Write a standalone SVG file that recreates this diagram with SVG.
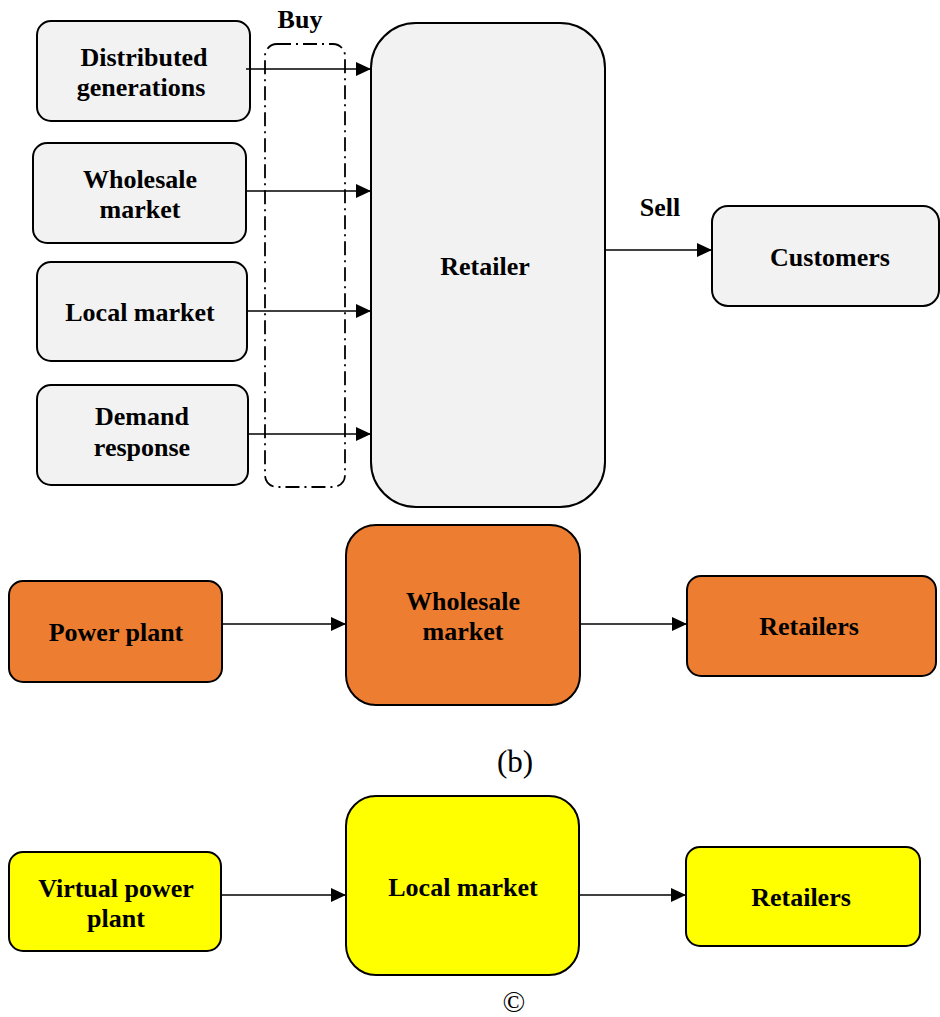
<svg xmlns="http://www.w3.org/2000/svg" width="940" height="1017" viewBox="0 0 940 1017">
<style>
.n{stroke:#000;stroke-width:2}
.g{fill:#f2f2f2}
.o{fill:#ed7d31}
.y{fill:#ffff00}
.t{font-family:"Liberation Serif",serif;font-weight:bold;font-size:26px;fill:#000;text-anchor:middle}
.c{font-family:"Liberation Serif",serif;font-size:31px;fill:#000;text-anchor:middle}
.e{stroke:#000;stroke-width:1.5;fill:none}
</style>
<defs>
<marker id="ah" markerWidth="15" markerHeight="14" refX="15" refY="7" orient="auto" markerUnits="userSpaceOnUse">
<path d="M0,0 L15,7 L0,14 Z" fill="#000"/>
</marker>
</defs>
<rect width="940" height="1017" fill="#fff"/>

<g id="dg"><rect class="n g" x="37" y="21" width="213" height="100" rx="14"/><text class="t" x="144" y="66">Distributed</text><text class="t" x="141" y="96">generations</text></g>
<g id="wm1"><rect class="n g" x="33" y="143" width="213" height="100" rx="14"/><text class="t" x="140" y="188">Wholesale</text><text class="t" x="140" y="218">market</text></g>
<g id="lm1"><rect class="n g" x="37" y="262" width="210" height="99" rx="14"/><text class="t" x="140" y="321">Local market</text></g>
<g id="dr"><rect class="n g" x="37" y="385" width="211" height="100" rx="14"/><text class="t" x="142" y="425">Demand</text><text class="t" x="142" y="456">response</text></g>
<g id="buy"><rect x="265" y="44" width="80" height="443" rx="12" fill="none" stroke="#000" stroke-width="1.8" stroke-dasharray="14,5,2,5"/><text class="t" x="300" y="28">Buy</text></g>
<g id="retailer"><rect class="n g" x="371" y="23" width="234" height="484" rx="45"/><text class="t" x="485" y="275">Retailer</text></g>
<g id="cust"><rect class="n g" x="712" y="206" width="227" height="100" rx="16"/><text class="t" x="830" y="266">Customers</text></g>
<text class="t" x="660" y="216">Sell</text>

<g id="pp"><rect class="n o" x="9" y="581" width="213" height="101" rx="14"/><text class="t" x="116" y="641">Power plant</text></g>
<g id="wm2"><rect class="n o" x="346" y="525" width="234" height="180" rx="30"/><text class="t" x="463" y="610">Wholesale</text><text class="t" x="463" y="640">market</text></g>
<g id="ret2"><rect class="n o" x="687" y="576" width="249" height="100" rx="14"/><text class="t" x="809" y="635">Retailers</text></g>
<text class="c" x="515" y="772">(b)</text>

<g id="vpp"><rect class="n y" x="9" y="852" width="212" height="99" rx="14"/><text class="t" x="116" y="897">Virtual power</text><text class="t" x="116" y="927">plant</text></g>
<g id="lm2"><rect class="n y" x="346" y="796" width="233" height="179" rx="30"/><text class="t" x="463" y="896">Local market</text></g>
<g id="ret3"><rect class="n y" x="686" y="847" width="234" height="99" rx="14"/><text class="t" x="801" y="906">Retailers</text></g>
<text class="c" x="514" y="1012" style="font-size:30px">©</text>

<g id="edges">
<line class="e" x1="246" y1="69" x2="371" y2="69" marker-end="url(#ah)"/>
<line class="e" x1="246" y1="191" x2="371" y2="191" marker-end="url(#ah)"/>
<line class="e" x1="247" y1="311" x2="371" y2="311" marker-end="url(#ah)"/>
<line class="e" x1="248" y1="434" x2="371" y2="434" marker-end="url(#ah)"/>
<line class="e" x1="605" y1="250" x2="712" y2="250" marker-end="url(#ah)"/>
<line class="e" x1="222" y1="624" x2="346" y2="624" marker-end="url(#ah)"/>
<line class="e" x1="580" y1="624" x2="687" y2="624" marker-end="url(#ah)"/>
<line class="e" x1="221" y1="895" x2="346" y2="895" marker-end="url(#ah)"/>
<line class="e" x1="579" y1="895" x2="686" y2="895" marker-end="url(#ah)"/>
</g>
</svg>
